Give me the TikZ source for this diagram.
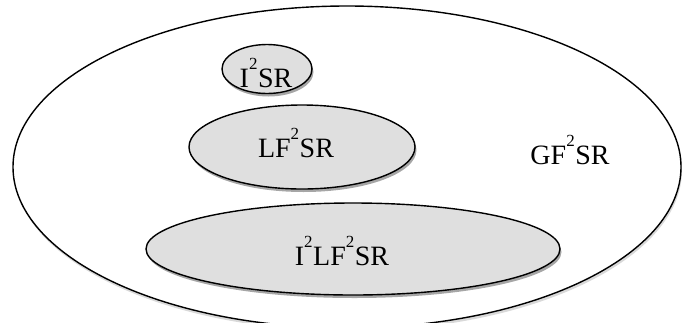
\documentclass[tikz,border=0pt]{standalone}
\usepackage{fontspec}
\setmainfont{Liberation Serif}
\usetikzlibrary{shapes.geometric,shadows}
\newcommand{\suptwo}{\raisebox{0.62em}{\fontsize{17}{17}\selectfont 2}\kern0.5pt}
\begin{document}
\begin{tikzpicture}[x=1pt,y=-1pt,
  setbox/.style={ellipse, draw=black, line width=1.4pt, inner sep=0pt},
  innerset/.style={setbox, fill=gray!25, drop shadow={shadow xshift=1.5pt, shadow yshift=-3pt, opacity=0.35, fill=black}},
  lbl/.style={font=\fontsize{28}{28}\selectfont, anchor=base, inner sep=0pt}]
\useasboundingbox (0,0) rectangle (682,322);
\node[setbox, fill=white, minimum width=668pt, minimum height=322pt,
  drop shadow={shadow xshift=1pt, shadow yshift=-3pt, opacity=0.15, fill=black}] (gf) at (347,167) {};
\node[innerset, minimum width=90pt, minimum height=49pt] (i2sr) at (267,69) {};
\node[innerset, minimum width=226pt, minimum height=84pt] (lf2sr) at (302,147) {};
\node[innerset, minimum width=414pt, minimum height=92pt] (i2lf2sr) at (353,249) {};
\node[lbl] (gflabel) at (570,164) {GF\suptwo SR};
\node[lbl] (i2srlabel) at (266,87) {I\suptwo SR};
\node[lbl] (lf2srlabel) at (296,157) {LF\suptwo SR};
\node[lbl] (i2lf2srlabel) at (342,265) {I\suptwo LF\suptwo SR};
\end{tikzpicture}
\end{document}
